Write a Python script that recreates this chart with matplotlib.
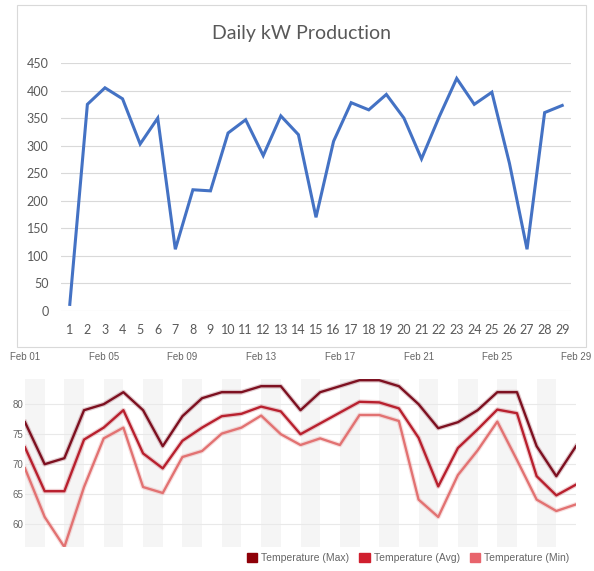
import matplotlib
matplotlib.use("Agg")
import matplotlib.pyplot as plt
import matplotlib.patheffects as pe
from matplotlib.patches import Rectangle, Patch
from matplotlib import font_manager

# ---- data ----
days = list(range(1, 30))
kw_production = [12, 375, 405, 385, 303, 350, 112, 220, 218, 323, 347, 282, 354, 320, 170,
                 308, 378, 365, 393, 350, 276, 352, 422, 375, 397, 268, 112, 360, 373]

temp_max = [77, 70, 71, 79, 80, 82, 79, 73, 78, 81, 82, 82, 83, 83, 79,
            82, 83, 84, 84, 83, 80, 76, 77, 79, 82, 82, 73, 68, 73]
temp_avg = [72.8, 65.5, 65.5, 74.1, 76.1, 79, 71.8, 69.3, 73.9, 76.1, 78, 78.4, 79.6, 78.8, 75,
            76.8, 78.6, 80.4, 80.3, 79.3, 74.4, 66.3, 72.7, 75.8, 79.1, 78.5, 68, 64.8, 66.6]
temp_min = [69.3, 61.2, 56.2, 66.2, 74.3, 76.1, 66.2, 65.2, 71.2, 72.2, 75.1, 76.1, 78.1, 75, 73.2,
            74.3, 73.2, 78.2, 78.2, 77.2, 64.1, 61.2, 68.2, 72.3, 77.1, 70.7, 64.1, 62.2, 63.3]
date_labels = ["Feb 01", "Feb 05", "Feb 09", "Feb 13", "Feb 17", "Feb 21", "Feb 25", "Feb 29"]
series_names = ["Temperature (Max)", "Temperature (Avg)", "Temperature (Min)"]

W, H = 594, 571

# pick a narrow font for the lower chart if it exists
names = {f.name for f in font_manager.fontManager.ttflist}
narrow = "Liberation Sans Narrow" if "Liberation Sans Narrow" in names else "Liberation Sans"

fig = plt.figure(figsize=(W / 100, H / 100), dpi=100)
fig.patch.set_facecolor("white")


def box(x0, y0, x1, y1):
    # pixel coords (top-left origin) -> figure fraction
    return [x0 / W, 1 - y1 / H, (x1 - x0) / W, (y1 - y0) / H]


# ---- top: Excel style line chart ----
frame = Rectangle((17 / W, 1 - 347 / H), (586 - 17) / W, (347 - 5) / H,
                  transform=fig.transFigure, fill=False, edgecolor="#d9d9d9", lw=0.8)
fig.patches.append(frame)

ax1 = fig.add_axes(box(61, 63, 571, 311))
ax1.plot(days, kw_production, color="#4472C4", lw=2.2, solid_joinstyle="miter")
ax1.set_xlim(0.5, 29.5)
ax1.set_ylim(0, 450)
ax1.set_yticks(range(0, 451, 50))
ax1.set_xticks(days)
ax1.grid(axis="y", color="#d9d9d9", lw=0.8)
ax1.set_axisbelow(True)
for s in ax1.spines.values():
    s.set_visible(False)
ax1.tick_params(length=0, labelsize=9, labelcolor="#595959")
ax1.tick_params(axis="y", pad=9)
ax1.tick_params(axis="x", pad=9)
for lab in ax1.get_xticklabels() + ax1.get_yticklabels():
    lab.set_family("Lato")
fig.text(301 / W, 1 - 33 / H, "Daily kW Production", family="Lato", fontsize=14,
         color="#595959", ha="center", va="center")

# ---- bottom: temperature chart ----
ax2 = fig.add_axes(box(25, 379, 576, 547))
ax2.set_xlim(0, 28)
ax2.set_ylim(56.2, 84.2)

# alternating day bands
for i in range(0, 28, 2):
    ax2.axvspan(i, i + 1, color="#f5f5f5", lw=0, zorder=0)
for v in range(60, 81, 5):
    ax2.axhline(v, color="#e9e9e9", lw=0.8, zorder=1)

colors = ["#7d1020", "#b8202e", "#e27272"]
legend_colors = ["#8e0008", "#d01f2e", "#e8646c"]
x = [d - 1 for d in days]
for vals, c in zip([temp_max, temp_avg, temp_min], colors):
    ax2.plot(x, vals, color=c, lw=1.7, zorder=3,
             path_effects=[pe.Stroke(linewidth=3.4, foreground=c, alpha=0.22), pe.Normal()])

for s in ax2.spines.values():
    s.set_visible(False)
ax2.xaxis.tick_top()
ax2.set_xticks(range(0, 29, 4))
ax2.set_xticklabels(date_labels)
ax2.set_yticks(range(60, 81, 5))
ax2.tick_params(length=0, labelsize=7, labelcolor="#666666")
ax2.tick_params(axis="x", pad=12)
ax2.tick_params(axis="y", pad=1)
for lab in ax2.get_xticklabels() + ax2.get_yticklabels():
    lab.set_family(narrow)

handles = [Patch(color=c, label=n) for c, n in zip(legend_colors, series_names)]
ax2.legend(handles=handles, loc="upper right", bbox_to_anchor=(1.005, 0.02), ncol=3,
           frameon=False, handlelength=1.0, handleheight=1.0, handletextpad=0.35,
           columnspacing=1.0, prop={"family": narrow, "size": 7.5}, labelcolor="#666666")

fig.savefig("out.png", dpi=100)
